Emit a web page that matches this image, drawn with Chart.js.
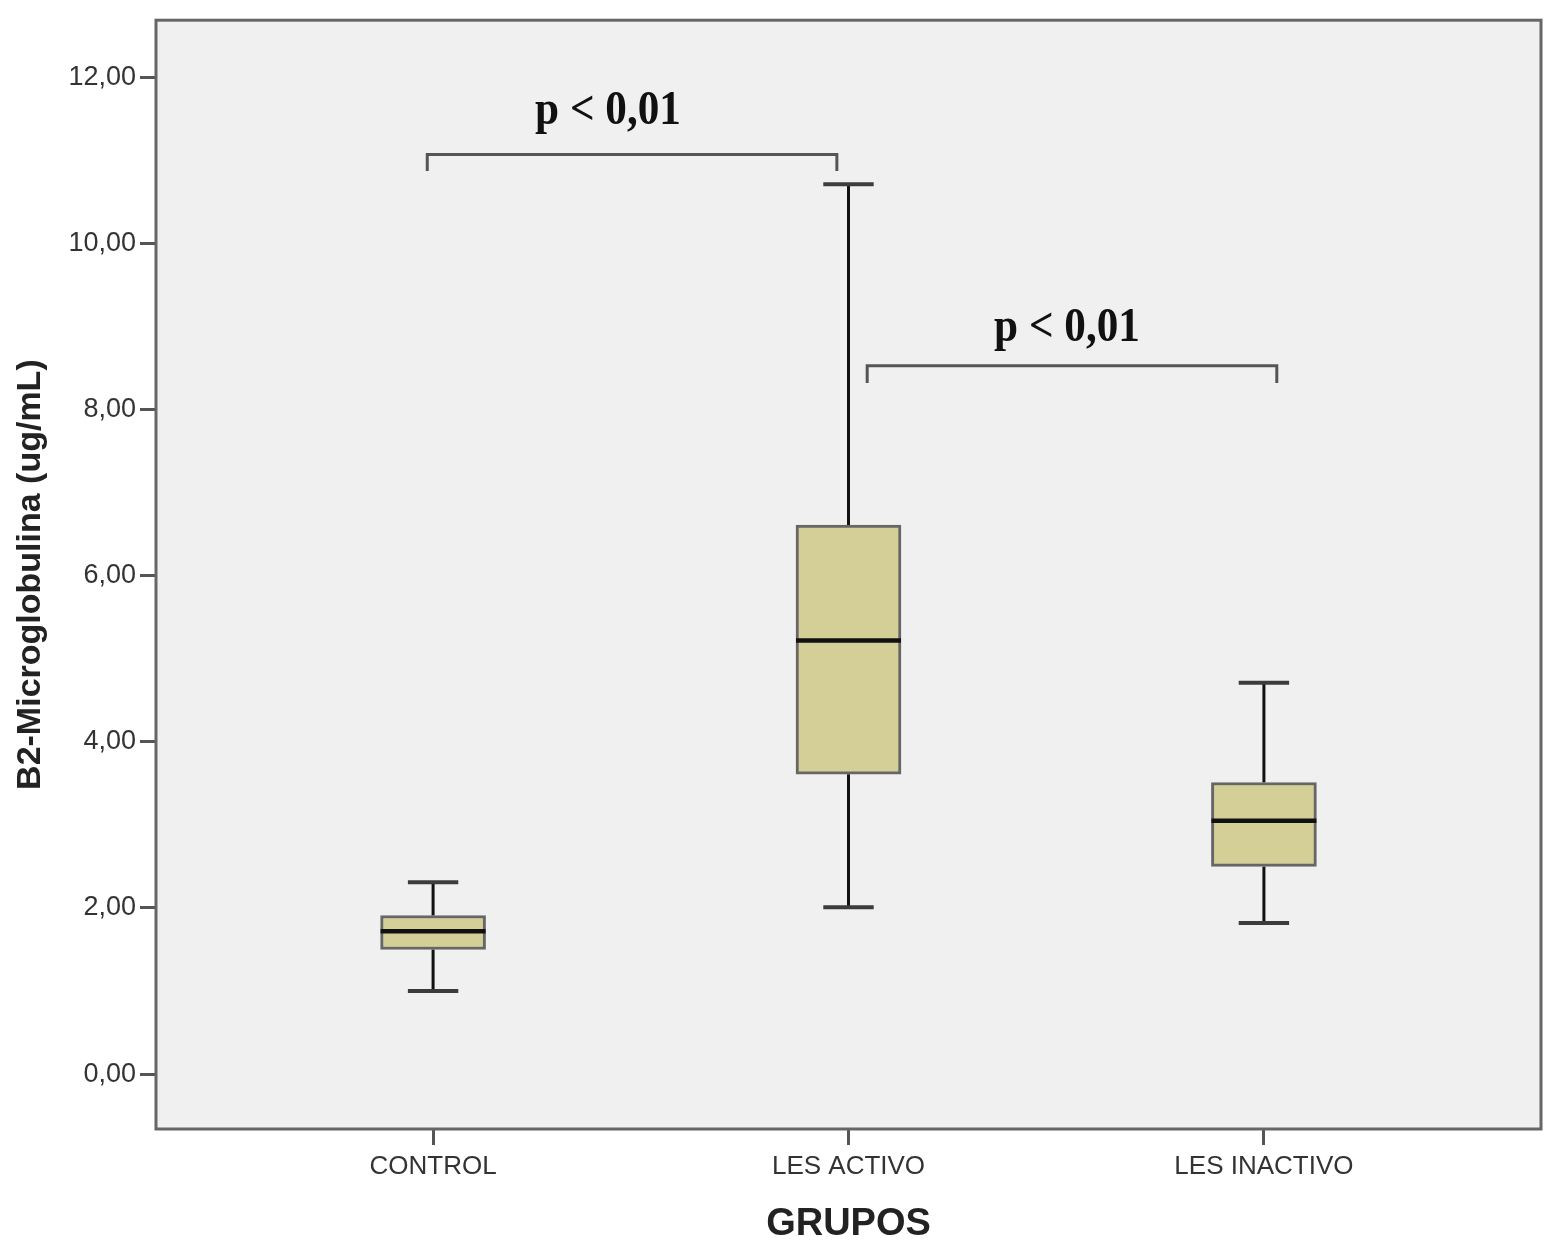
<!DOCTYPE html>
<html>
<head>
<meta charset="utf-8">
<script src="https://cdn.jsdelivr.net/npm/chart.js@4.4.0/dist/chart.umd.min.js"></script>
<style>
  html, body { margin: 0; padding: 0; background: #fff; }
  #wrap { width: 1558px; height: 1259px; }
</style>
</head>
<body>
<div id="wrap"><canvas id="chart"></canvas></div>
<script>
// box plot values
const groups = ['CONTROL', 'LES ACTIVO', 'LES INACTIVO'];
const whiskerLow = [1.00, 2.01, 1.82];
const q1 = [1.50, 3.61, 2.50];
const median = [1.72, 5.22, 3.05];
const q3 = [1.91, 6.61, 3.51];
const whiskerHigh = [2.31, 10.71, 4.71];
const yTicks = [0, 2, 4, 6, 8, 10, 12];

// significance brackets (x in group index units, y in ug/mL)
const bracketFrom = [-0.014, 1.045];
const bracketTo = [0.972, 2.031];
const bracketY = [11.07, 8.525];
const bracketDrop = [10.87, 8.32];
const pLabelX = [0.421, 1.526];
const pLabelY = [11.43, 8.83];
const pLabels = ['p < 0,01', 'p < 0,01'];

const frame = {
    id: 'frame',
    beforeDraw(chart) {
        const a = chart.chartArea, ctx = chart.ctx;
        ctx.save();
        ctx.fillStyle = '#f0f0f0';
        ctx.fillRect(a.left, a.top, a.right - a.left, a.bottom - a.top);
        ctx.restore();
    },
    afterDraw(chart) {
        const a = chart.chartArea, ctx = chart.ctx;
        ctx.save();
        ctx.strokeStyle = '#666';
        ctx.lineWidth = 3;
        ctx.strokeRect(a.left, a.top, a.right - a.left, a.bottom - a.top);
        ctx.restore();
    }
};

// whiskers, caps and medians, placed through the scales
const boxParts = {
    id: 'boxParts',
    beforeDatasetsDraw(chart) {
        const ctx = chart.ctx, ys = chart.scales.y;
        const bars = chart.getDatasetMeta(0).data;
        ctx.save();
        ctx.strokeStyle = '#111';
        ctx.lineWidth = 3;
        bars.forEach((bar, i) => {
            ctx.beginPath();
            ctx.moveTo(bar.x, ys.getPixelForValue(whiskerHigh[i]));
            ctx.lineTo(bar.x, ys.getPixelForValue(q3[i]));
            ctx.moveTo(bar.x, ys.getPixelForValue(q1[i]));
            ctx.lineTo(bar.x, ys.getPixelForValue(whiskerLow[i]));
            ctx.stroke();
        });
        ctx.restore();
    },
    afterDatasetsDraw(chart) {
        const ctx = chart.ctx, ys = chart.scales.y, xs = chart.scales.x;
        const bars = chart.getDatasetMeta(0).data;
        ctx.save();
        bars.forEach((bar, i) => {
            const half = bar.width / 2;
            ctx.strokeStyle = '#3c3c3c';
            ctx.lineWidth = 4;
            ctx.beginPath();
            [whiskerHigh[i], whiskerLow[i]].forEach(v => {
                const py = ys.getPixelForValue(v);
                ctx.moveTo(bar.x - half * 0.48, py);
                ctx.lineTo(bar.x + half * 0.48, py);
            });
            ctx.stroke();
            ctx.strokeStyle = '#111';
            ctx.lineWidth = 4.5;
            ctx.beginPath();
            const my = ys.getPixelForValue(median[i]);
            ctx.moveTo(bar.x - half, my);
            ctx.lineTo(bar.x + half, my);
            ctx.stroke();
        });

        // brackets
        ctx.strokeStyle = '#555';
        ctx.lineWidth = 3;
        bracketFrom.forEach((f, i) => {
            const x0 = xs.getPixelForValue(f), x1 = xs.getPixelForValue(bracketTo[i]);
            const y0 = ys.getPixelForValue(bracketY[i]), yd = ys.getPixelForValue(bracketDrop[i]);
            ctx.beginPath();
            ctx.moveTo(x0, yd);
            ctx.lineTo(x0, y0);
            ctx.lineTo(x1, y0);
            ctx.lineTo(x1, yd);
            ctx.stroke();
        });

        ctx.fillStyle = '#111';
        ctx.font = 'bold 48px "Liberation Serif", "DejaVu Serif", serif';
        ctx.textAlign = 'center';
        ctx.textBaseline = 'alphabetic';
        pLabels.forEach((t, i) => {
            ctx.save();
            ctx.translate(xs.getPixelForValue(pLabelX[i]), ys.getPixelForValue(pLabelY[i]));
            ctx.scale(0.9, 1);
            ctx.fillText(t, 0, 0);
            ctx.restore();
        });
        ctx.restore();
    }
};

const ctx = document.getElementById('chart').getContext('2d');
new Chart(ctx, {
    type: 'bar',
    data: {
        datasets: [{
            data: groups.map((g, i) => ({ x: i, y: [q1[i], q3[i]] })),
            backgroundColor: '#d4cf97',
            borderColor: '#666',
            borderWidth: 3,
            borderSkipped: false,
            barThickness: 105
        }]
    },
    options: {
        responsive: true,
        maintainAspectRatio: false,
        animation: false,
        layout: { padding: { top: 19, right: 17, left: 0, bottom: 0 } },
        plugins: { legend: { display: false }, tooltip: { enabled: false } },
        scales: {
            x: {
                type: 'linear',
                offset: false,
                min: -0.667,
                max: 2.667,
                afterBuildTicks: s => { s.ticks = [0, 1, 2].map(v => ({ value: v })); },
                afterFit: s => { s.height = 130; },
                border: { display: false },
                grid: { offset: false, drawOnChartArea: false, tickLength: 16, tickWidth: 3, tickColor: '#555' },
                ticks: {
                    autoSkip: false,
                    maxRotation: 0,
                    padding: 6,
                    color: '#333',
                    font: { family: '"Liberation Sans Narrow", "Arial Narrow", "Liberation Sans", sans-serif', size: 26 },
                    callback: v => groups[v]
                },
                title: {
                    display: true,
                    text: 'GRUPOS',
                    color: '#222',
                    font: { family: '"Liberation Sans", Arial, sans-serif', size: 38, weight: 'bold' },
                    padding: { top: 0, bottom: 12 }
                }
            },
            y: {
                min: -0.66,
                max: 12.685,
                afterBuildTicks: s => { s.ticks = yTicks.map(v => ({ value: v })); },
                afterFit: s => { s.width = 156; },
                border: { display: false },
                grid: { drawOnChartArea: false, tickLength: 16, tickWidth: 3, tickColor: '#555' },
                ticks: {
                    padding: 4,
                    color: '#333',
                    font: { family: '"Liberation Sans", Arial, sans-serif', size: 27 },
                    callback: v => v.toFixed(2).replace('.', ',')
                },
                title: {
                    display: true,
                    text: 'B2-Microglobulina (ug/mL)',
                    color: '#222',
                    font: { family: '"Liberation Sans", Arial, sans-serif', size: 34, weight: 'bold' },
                    padding: { top: 10, bottom: 0 }
                }
            }
        }
    },
    plugins: [frame, boxParts]
});
</script>
</body>
</html>
